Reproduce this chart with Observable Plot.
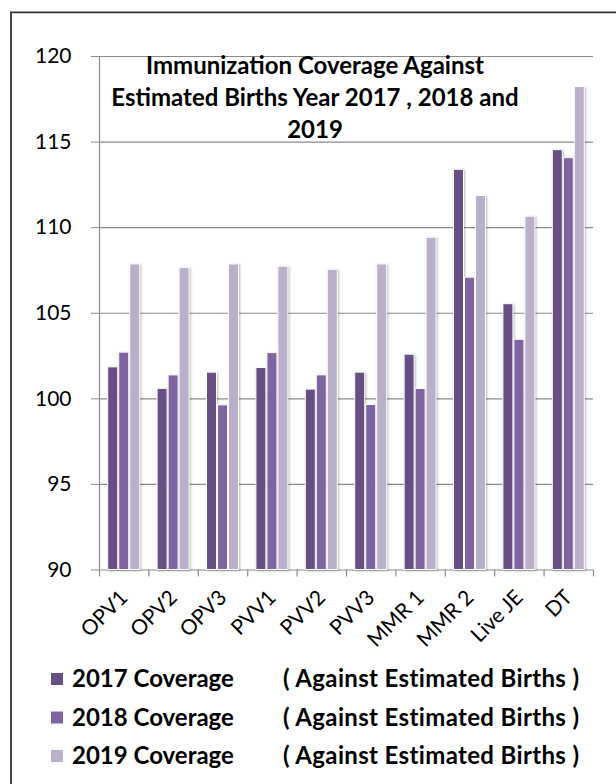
<!DOCTYPE html>
<html>
<head>
<meta charset="utf-8">
<script src="https://cdn.jsdelivr.net/npm/d3@7"></script>
<script src="https://cdn.jsdelivr.net/npm/@observablehq/plot@0.6"></script>
<style>
  body { margin: 0; background: #fff; }
  #wrap { position: relative; width: 616px; height: 784px; overflow: hidden; background: #fff; }
  #chart, #overlay { position: absolute; left: 0; top: 0; }
  #overlay { pointer-events: none; }
  g[aria-label="bar"] rect { filter: drop-shadow(1.5px 1px 1.2px rgba(0,0,0,0.28)); }
  g[aria-label="y-axis tick"] { stroke: #8a8a8a; }
</style>
</head>
<body>
<div id="wrap"><div id="chart"></div><svg id="overlay" width="616" height="784"></svg></div>
<script>
// ---- data ----
const categories = ["OPV1", "OPV2", "OPV3", "PVV1", "PVV2", "PVV3", "MMR 1", "MMR 2", "Live JE", "DT"];
const cov2017 = [101.84, 100.58, 101.53, 101.80, 100.54, 101.53, 102.58, 113.38, 105.53, 114.53];
const cov2018 = [102.70, 101.37, 99.62, 102.67, 101.37, 99.64, 100.58, 107.08, 103.45, 114.06];
const cov2019 = [107.85, 107.64, 107.85, 107.72, 107.54, 107.85, 109.41, 111.85, 110.64, 118.22];
const seriesNames = ["2017 Coverage", "2018 Coverage", "2019 Coverage"];
const legendNote = "( Against Estimated Births )";
const yTicks = [90, 95, 100, 105, 110, 115, 120];
const titleLines = ["Immunization Coverage Against", "Estimated Births Year 2017 , 2018 and", "2019"];

// ---- styles ----
const colors = ["#674f84", "#8064a2", "#bab0cc"];
const gridColor = "#8a8a8a";
const W = 616, H = 784, mL = 99, mR = 23, mT = 56, mB = 214.5;
const band = (W - mL - mR) / categories.length;
const yMin = yTicks[0], yMax = yTicks[yTicks.length - 1];
const unitsPerPx = (yMax - yMin) / (H - mT - mB);
const tickLen = 7;
const barW = 10, pitch = 11;
const groupOff = (band - (pitch * 2 + barW)) / 2;

const seriesValues = [cov2017, cov2018, cov2019];
const seriesData = seriesValues.map(vals => categories.map((c, j) => ({cat: c, v: vals[j]})));

const chart = Plot.plot({
  width: W, height: H,
  marginLeft: mL, marginRight: mR, marginTop: mT, marginBottom: mB,
  style: {fontFamily: "Lato, sans-serif", fontSize: "21px", color: "#000", background: "transparent"},
  x: {type: "band", domain: categories, padding: 0, round: false, label: null},
  y: {domain: [yMin, yMax], label: null},
  marks: [
    Plot.ruleY(yTicks, {stroke: gridColor, strokeWidth: 1.2}),
    ...seriesData.map((d, i) => Plot.barY(d, {
      x: "cat", y1: yMin, y2: "v", fill: colors[i], stroke: "#fff", strokeWidth: 1,
      insetLeft: groupOff + i * pitch, insetRight: band - groupOff - i * pitch - barW
    })),
    Plot.ruleX(categories, {x: d => d, dx: -band / 2, y1: yMin, y2: yMin - tickLen * unitsPerPx, stroke: gridColor, strokeWidth: 1.2}),
    Plot.ruleX([categories[categories.length - 1]], {x: d => d, dx: band / 2, y1: yMin, y2: yMin - tickLen * unitsPerPx, stroke: gridColor, strokeWidth: 1.2}),
    Plot.ruleX([categories[0]], {x: d => d, dx: -band / 2, y1: yMin, y2: yMax, stroke: gridColor, strokeWidth: 1.2}),
    Plot.axisY({ticks: yTicks, tickSize: 8, tickPadding: 20, fontSize: 21, label: null}),
    Plot.axisX({tickRotate: -45, tickSize: 0, tickPadding: 24, fontSize: 21, label: null})
  ]
});
document.getElementById("chart").appendChild(chart);

// ---- overlay: border, title, legend ----
const ov = d3.select("#overlay");
ov.append("path").attr("d", "M11,790V12.3H620").attr("fill", "none").attr("stroke", "#333").attr("stroke-width", 1.8);
const title = ov.append("text").attr("font-family", "Lato, sans-serif").attr("font-weight", "bold")
  .attr("font-size", 24).attr("text-anchor", "middle").attr("fill", "#000");
titleLines.forEach((t, i) => title.append("tspan").attr("x", 315).attr("y", 74 + i * 32).text(t));

const legBase = 687, legStep = 38.5;
seriesNames.forEach((name, i) => {
  const y = legBase + i * legStep;
  ov.append("rect").attr("x", 51).attr("y", y - 14).attr("width", 12).attr("height", 12).attr("fill", colors[i]);
  ov.append("text").attr("x", 72).attr("y", y).attr("font-family", "Lato, sans-serif").attr("font-weight", "bold")
    .attr("font-size", 24).attr("fill", "#000").text(name);
  ov.append("text").attr("x", 283).attr("y", y).attr("font-family", "Lato, sans-serif").attr("font-weight", "bold")
    .attr("font-size", 24).attr("letter-spacing", 0.35).attr("fill", "#000").text(legendNote);
});
</script>
</body>
</html>
